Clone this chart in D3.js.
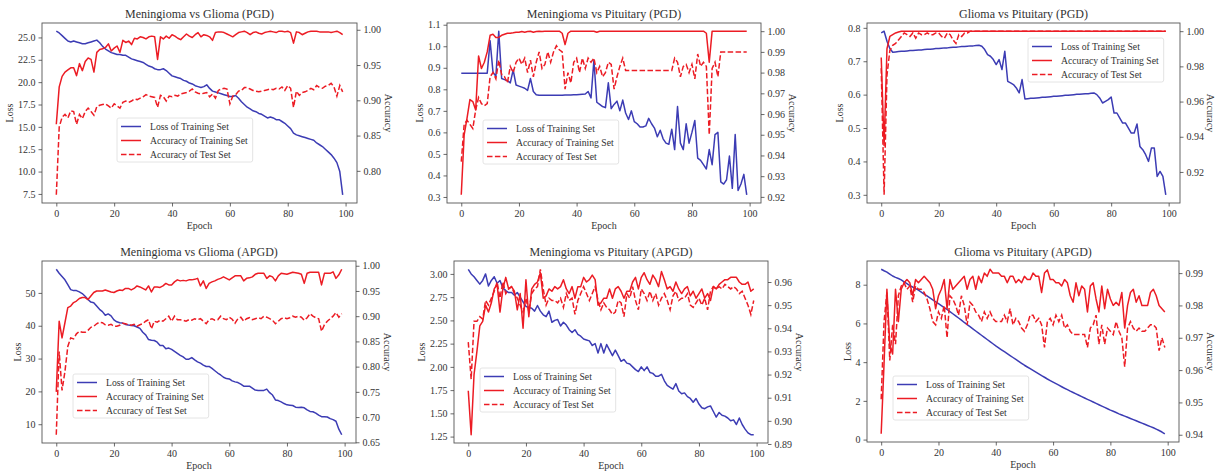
<!DOCTYPE html>
<html><head><meta charset="utf-8">
<script src="https://cdn.jsdelivr.net/npm/d3@7"></script>
<style>
html,body{margin:0;padding:0;background:#fff;}
svg text{font-family:"Liberation Serif","Times New Roman",serif;fill:#333;}
</style></head>
<body><svg id="c" width="1215" height="473"></svg>
<script>
const epochs = d3.range(100);
const titles = ["Meningioma vs Glioma (PGD)","Meningioma vs Pituitary (PGD)","Glioma vs Pituitary (PGD)",
  "Meningioma vs Glioma (APGD)","Meningioma vs Pituitary (APGD)","Glioma vs Pituitary (APGD)"];
const legendLabels = ["Loss of Training Set","Accuracy of Training Set","Accuracy of Test Set"];

// Panel 1: Meningioma vs Glioma (PGD)
const lossMG_PGD = [25.7,25.5,25.2,24.9,24.6,24.5,24.6,24.5,24.4,24.3,
24.3,24.4,24.5,24.6,24.7,24.4,24.0,23.7,23.5,23.3,
23.2,23.1,23.1,23.0,23.0,22.8,22.6,22.5,22.4,22.3,
22.2,22.0,21.8,21.7,21.5,21.4,21.4,21.5,21.3,21.0,
20.7,20.6,20.5,20.4,20.2,20.1,19.9,19.8,19.6,19.5,
19.4,19.5,19.7,19.3,19.0,18.9,18.8,18.7,18.6,18.5,
18.4,18.4,18.5,18.2,17.8,17.5,17.2,17.0,16.8,16.7,
16.5,16.4,16.2,16.0,16.1,16.0,15.8,15.8,15.6,15.4,
15.1,14.8,14.3,14.1,14.0,13.9,13.8,13.7,13.6,13.5,
13.2,13.0,12.8,12.5,12.2,11.9,11.5,11.0,10.0,7.4];
const trainMG_PGD = [0.866,0.919,0.934,0.940,0.943,0.946,0.946,0.935,0.952,0.942,
0.955,0.960,0.958,0.940,0.968,0.972,0.973,0.975,0.980,0.970,
0.974,0.977,0.968,0.985,0.982,0.984,0.979,0.988,0.987,0.990,
0.989,0.987,0.990,0.991,0.990,0.958,0.990,0.987,0.991,0.988,
0.993,0.991,0.988,0.986,0.990,0.994,0.991,0.989,0.993,0.996,
0.990,0.993,0.992,0.990,0.985,0.996,0.997,0.997,0.996,0.994,
0.992,0.990,0.993,0.996,0.997,0.998,0.996,0.993,0.996,0.997,
0.995,0.994,0.996,0.997,0.998,0.997,0.996,0.998,0.998,0.997,
0.998,0.996,0.981,0.997,0.996,0.993,0.995,0.997,0.998,0.998,
0.998,0.997,0.997,0.997,0.997,0.996,0.997,0.998,0.996,0.993];
const testMG_PGD = [0.766,0.862,0.876,0.880,0.875,0.885,0.884,0.866,0.880,0.874,
0.884,0.889,0.884,0.879,0.891,0.893,0.894,0.895,0.892,0.889,
0.895,0.892,0.889,0.897,0.899,0.897,0.899,0.902,0.901,0.903,
0.905,0.908,0.906,0.905,0.904,0.890,0.907,0.905,0.899,0.906,
0.905,0.907,0.906,0.909,0.910,0.911,0.913,0.916,0.912,0.910,
0.909,0.910,0.911,0.905,0.909,0.903,0.914,0.916,0.917,0.916,
0.895,0.906,0.908,0.913,0.914,0.918,0.918,0.916,0.914,0.913,
0.912,0.913,0.914,0.915,0.916,0.915,0.917,0.916,0.919,0.914,
0.921,0.917,0.890,0.913,0.907,0.911,0.912,0.914,0.917,0.915,
0.921,0.918,0.917,0.920,0.921,0.924,0.919,0.906,0.921,0.912];

// Panel 2: Meningioma vs Pituitary (PGD)
const lossMP_PGD = [0.875,0.875,0.875,0.875,0.875,0.875,0.875,0.875,0.875,0.875,
1.025,0.88,0.86,1.07,0.85,0.845,0.84,0.83,0.89,0.82,
0.815,0.81,0.805,0.795,0.85,0.79,0.775,0.772,0.772,0.772,
0.772,0.772,0.772,0.773,0.773,0.773,0.774,0.774,0.774,0.775,
0.775,0.776,0.777,0.778,0.79,0.76,0.935,0.74,0.73,0.72,
0.715,0.83,0.71,0.73,0.745,0.70,0.75,0.69,0.66,0.70,
0.65,0.64,0.625,0.625,0.63,0.665,0.64,0.62,0.58,0.61,
0.57,0.55,0.545,0.615,0.52,0.72,0.55,0.52,0.64,0.55,
0.60,0.655,0.48,0.47,0.45,0.43,0.52,0.45,0.59,0.60,
0.37,0.36,0.38,0.49,0.34,0.59,0.33,0.36,0.405,0.31];
const trainMP_PGD = [0.921,0.950,0.958,0.967,0.966,0.962,0.988,0.982,0.985,0.990,
0.998,0.9985,0.997,0.997,0.998,0.9985,0.999,0.999,0.9992,0.9995,
0.9995,0.9998,0.9995,0.9998,1.0,0.9995,0.9998,1.0,0.9998,1.0,
1.0,1.0,1.0,1.0,1.0,0.999,0.9935,0.999,1.0,1.0,
1.0,1.0,1.0,1.0,1.0,1.0,1.0,0.9995,1.0,1.0,
1.0,1.0,1.0,1.0,1.0,1.0,1.0,1.0,1.0,1.0,
1.0,1.0,1.0,1.0,1.0,1.0,1.0,1.0,1.0,1.0,
1.0,1.0,1.0,1.0,1.0,1.0,1.0,1.0,1.0,1.0,
1.0,1.0,1.0,1.0,1.0,0.999,0.985,1.0,1.0,1.0,
1.0,1.0,1.0,1.0,1.0,1.0,1.0,1.0,1.0,1.0];
const testMP_PGD = [0.937,0.955,0.957,0.955,0.953,0.962,0.968,0.965,0.964,0.965,
0.978,0.980,0.977,0.986,0.979,0.978,0.975,0.983,0.980,0.985,
0.987,0.984,0.987,0.980,0.986,0.978,0.985,0.990,0.982,0.984,
0.990,0.985,0.990,0.993,0.991,0.990,0.972,0.980,0.975,0.985,
0.987,0.980,0.987,0.982,0.987,0.985,0.987,0.980,0.983,0.978,
0.980,0.985,0.984,0.972,0.978,0.983,0.987,0.981,0.981,0.981,
0.981,0.981,0.981,0.981,0.981,0.981,0.981,0.981,0.981,0.981,
0.981,0.981,0.981,0.981,0.987,0.985,0.978,0.983,0.984,0.980,
0.984,0.977,0.989,0.983,0.985,0.983,0.950,0.982,0.985,0.978,
0.990,0.990,0.990,0.990,0.990,0.990,0.990,0.990,0.990,0.990];

// Panel 3: Glioma vs Pituitary (PGD)
const lossGP_PGD = [0.785,0.790,0.760,0.738,0.727,0.728,0.729,0.730,0.730,0.731,
0.732,0.732,0.733,0.734,0.734,0.735,0.736,0.736,0.737,0.738,
0.738,0.739,0.740,0.740,0.741,0.742,0.742,0.743,0.744,0.744,
0.745,0.746,0.746,0.747,0.748,0.745,0.735,0.720,0.715,0.705,
0.690,0.705,0.675,0.730,0.640,0.635,0.630,0.620,0.605,0.645,
0.587,0.588,0.589,0.589,0.590,0.591,0.592,0.592,0.593,0.594,
0.595,0.595,0.596,0.597,0.598,0.598,0.599,0.600,0.601,0.601,
0.602,0.603,0.603,0.604,0.605,0.600,0.590,0.575,0.580,0.585,
0.593,0.545,0.545,0.530,0.515,0.515,0.500,0.485,0.485,0.512,
0.445,0.435,0.420,0.400,0.440,0.440,0.355,0.370,0.355,0.300];
const trainGP_PGD = [0.985,0.935,0.990,0.997,0.998,0.999,0.9995,1.0,1.0,1.0,
1.0,1.0,1.0,1.0,1.0,1.0,1.0,1.0,1.0,1.0,
1.0,1.0,1.0,1.0,1.0,1.0,1.0,1.0,1.0,1.0,
1.0,1.0,1.0,1.0,1.0,1.0,1.0,1.0,1.0,1.0,
1.0,1.0,1.0,1.0,1.0,1.0,1.0,1.0,1.0,1.0,
1.0,1.0,1.0,1.0,1.0,1.0,1.0,1.0,1.0,1.0,
1.0,1.0,1.0,1.0,1.0,1.0,1.0,1.0,1.0,1.0,
1.0,1.0,1.0,1.0,1.0,1.0,1.0,1.0,1.0,1.0,
1.0,1.0,1.0,1.0,1.0,1.0,1.0,1.0,1.0,1.0,
1.0,1.0,1.0,1.0,1.0,1.0,1.0,1.0,1.0,1.0];
const testGP_PGD = [0.979,0.907,0.975,0.989,0.992,0.993,0.995,0.997,0.999,0.998,
0.997,0.999,0.996,0.999,0.998,0.998,0.999,0.998,0.998,0.999,
0.999,0.997,0.996,0.999,0.998,0.995,0.993,0.998,0.997,0.999,
0.999,1.0,1.0,1.0,1.0,1.0,1.0,1.0,1.0,1.0,
1.0,1.0,1.0,1.0,1.0,1.0,1.0,1.0,1.0,1.0,
1.0,1.0,1.0,1.0,1.0,1.0,1.0,1.0,1.0,1.0,
1.0,1.0,1.0,1.0,1.0,1.0,1.0,1.0,1.0,1.0,
1.0,1.0,1.0,1.0,1.0,1.0,1.0,1.0,1.0,1.0,
1.0,1.0,1.0,1.0,1.0,1.0,1.0,1.0,1.0,1.0,
1.0,1.0,1.0,1.0,1.0,1.0,1.0,1.0,1.0,1.0];

// Panel 4: Meningioma vs Glioma (APGD)
const lossMG_APGD = [57.2,56.0,55.0,54.0,52.5,51.0,50.7,50.7,50.3,49.8,
49.0,48.0,47.2,47.0,46.0,45.0,44.3,43.2,43.6,43.0,
41.8,41.2,40.9,40.8,40.4,40.2,40.1,40.0,39.6,39.2,
38.0,37.2,35.8,35.6,35.5,35.0,34.0,34.0,33.0,33.2,
32.8,32.2,31.6,31.0,30.5,29.8,29.8,30.3,29.6,29.0,
28.6,28.0,27.6,27.6,27.0,26.3,25.6,25.0,24.3,23.9,
23.8,23.2,22.9,22.7,22.2,21.6,21.6,21.6,21.0,20.4,
20.3,20.3,20.3,20.7,19.6,18.9,17.4,17.2,16.8,16.3,
15.9,15.8,15.7,15.2,15.1,15.2,15.0,14.4,13.9,13.8,
13.4,12.8,12.3,12.3,12.2,11.7,11.4,10.9,8.5,6.8];
const trainMG_APGD = [0.750,0.890,0.857,0.887,0.917,0.920,0.927,0.930,0.935,0.937,
0.937,0.933,0.940,0.947,0.950,0.950,0.950,0.952,0.950,0.948,
0.947,0.950,0.952,0.951,0.955,0.955,0.952,0.955,0.960,0.958,
0.955,0.952,0.960,0.948,0.958,0.958,0.957,0.960,0.965,0.962,
0.962,0.968,0.972,0.970,0.971,0.970,0.972,0.972,0.973,0.975,
0.960,0.970,0.955,0.965,0.968,0.970,0.973,0.975,0.978,0.975,
0.972,0.976,0.980,0.980,0.980,0.970,0.975,0.976,0.978,0.983,
0.985,0.985,0.985,0.975,0.980,0.978,0.970,0.980,0.985,0.984,
0.983,0.985,0.987,0.986,0.985,0.983,0.965,0.985,0.987,0.987,
0.987,0.987,0.962,0.985,0.985,0.985,0.988,0.975,0.982,0.993];
const testMG_APGD = [0.665,0.830,0.753,0.790,0.840,0.857,0.855,0.865,0.870,0.868,
0.868,0.872,0.878,0.880,0.885,0.888,0.887,0.883,0.882,0.884,
0.880,0.880,0.882,0.886,0.885,0.883,0.882,0.884,0.880,0.883,
0.885,0.890,0.893,0.875,0.890,0.888,0.892,0.890,0.895,0.900,
0.890,0.900,0.893,0.893,0.892,0.890,0.893,0.892,0.895,0.893,
0.895,0.890,0.885,0.893,0.895,0.892,0.893,0.900,0.895,0.893,
0.898,0.894,0.886,0.895,0.898,0.890,0.895,0.897,0.893,0.895,
0.897,0.895,0.900,0.898,0.895,0.892,0.885,0.890,0.895,0.897,
0.895,0.897,0.900,0.898,0.900,0.898,0.892,0.897,0.905,0.900,
0.897,0.895,0.870,0.883,0.890,0.895,0.900,0.907,0.898,0.905];

// Panel 5: Meningioma vs Pituitary (APGD)
const lossMP_APGD = [3.05,3.00,2.97,2.93,2.89,2.93,3.00,2.87,2.93,2.97,
2.90,2.93,2.85,2.82,2.80,2.80,2.77,2.80,2.75,2.70,
2.65,2.64,2.63,2.60,2.66,2.60,2.56,2.54,2.60,2.48,
2.50,2.51,2.44,2.48,2.45,2.40,2.37,2.40,2.35,2.33,
2.30,2.29,2.28,2.23,2.25,2.15,2.25,2.15,2.24,2.18,
2.12,2.18,2.12,2.06,2.08,2.04,2.03,2.00,1.97,1.95,
2.00,1.96,2.00,1.94,1.93,1.90,1.90,1.92,1.85,1.80,
1.78,1.76,1.82,1.74,1.71,1.72,1.68,1.66,1.62,1.66,
1.60,1.56,1.55,1.57,1.58,1.52,1.46,1.51,1.48,1.47,
1.45,1.42,1.43,1.38,1.45,1.38,1.33,1.29,1.27,1.27];
const trainMP_APGD = [0.913,0.894,0.920,0.930,0.941,0.943,0.950,0.947,0.951,0.957,
0.959,0.947,0.957,0.962,0.957,0.958,0.956,0.948,0.955,0.940,
0.961,0.945,0.957,0.959,0.960,0.964,0.953,0.954,0.957,0.956,
0.958,0.957,0.958,0.961,0.957,0.955,0.958,0.953,0.958,0.958,
0.962,0.960,0.961,0.963,0.961,0.950,0.951,0.953,0.953,0.957,
0.953,0.957,0.958,0.956,0.953,0.956,0.956,0.960,0.962,0.957,
0.962,0.964,0.961,0.959,0.963,0.961,0.958,0.9645,0.961,0.957,
0.958,0.956,0.960,0.957,0.955,0.957,0.958,0.954,0.956,0.953,
0.955,0.957,0.953,0.955,0.952,0.958,0.957,0.959,0.960,0.961,
0.961,0.962,0.962,0.962,0.960,0.959,0.959,0.960,0.956,0.957];
const testMP_APGD = [0.934,0.918,0.943,0.943,0.945,0.944,0.952,0.950,0.953,0.956,
0.960,0.953,0.960,0.955,0.957,0.958,0.955,0.953,0.950,0.947,
0.953,0.947,0.955,0.957,0.958,0.9655,0.957,0.950,0.953,0.952,
0.952,0.951,0.953,0.949,0.955,0.952,0.953,0.946,0.952,0.955,
0.958,0.955,0.952,0.955,0.958,0.952,0.948,0.951,0.949,0.948,
0.946,0.947,0.952,0.951,0.945,0.955,0.953,0.958,0.952,0.948,
0.957,0.955,0.952,0.956,0.952,0.955,0.950,0.953,0.955,0.952,
0.948,0.954,0.956,0.952,0.953,0.953,0.955,0.950,0.949,0.951,
0.953,0.950,0.953,0.948,0.956,0.958,0.957,0.958,0.957,0.959,
0.958,0.957,0.958,0.957,0.955,0.956,0.953,0.950,0.946,0.952];

// Panel 6: Glioma vs Pituitary (APGD)
const lossGP_APGD = [8.80,8.72,8.65,8.55,8.45,8.38,8.32,8.25,8.15,8.05,
7.95,7.88,7.80,7.72,7.62,7.52,7.42,7.32,7.22,7.12,
7.02,6.92,6.82,6.72,6.61,6.50,6.39,6.28,6.17,6.05,
5.94,5.83,5.72,5.61,5.50,5.39,5.28,5.17,5.06,4.95,
4.84,4.74,4.64,4.54,4.44,4.34,4.24,4.14,4.04,3.94,
3.84,3.75,3.66,3.57,3.48,3.39,3.30,3.22,3.13,3.05,
2.97,2.89,2.81,2.73,2.65,2.58,2.50,2.43,2.36,2.29,
2.22,2.15,2.08,2.01,1.94,1.87,1.80,1.73,1.66,1.59,
1.52,1.46,1.40,1.33,1.27,1.21,1.15,1.09,1.03,0.97,
0.91,0.85,0.79,0.73,0.67,0.61,0.54,0.47,0.39,0.30];
const trainGP_APGD = [0.9403,0.962,0.985,0.968,0.965,0.985,0.975,0.985,0.987,0.988,
0.987,0.983,0.988,0.987,0.988,0.989,0.988,0.987,0.985,0.979,
0.983,0.985,0.988,0.979,0.988,0.985,0.986,0.987,0.988,0.989,
0.985,0.988,0.989,0.985,0.989,0.987,0.990,0.989,0.9912,0.990,
0.990,0.990,0.989,0.989,0.987,0.989,0.989,0.987,0.988,0.987,
0.989,0.988,0.988,0.990,0.989,0.989,0.984,0.990,0.991,0.988,
0.988,0.987,0.987,0.986,0.988,0.987,0.983,0.981,0.987,0.983,
0.986,0.985,0.978,0.986,0.987,0.982,0.978,0.986,0.979,0.985,
0.982,0.980,0.981,0.980,0.984,0.973,0.980,0.984,0.985,0.981,
0.983,0.980,0.980,0.980,0.984,0.985,0.983,0.980,0.979,0.978];
const testGP_APGD = [0.951,0.975,0.984,0.963,0.974,0.968,0.983,0.986,0.987,0.985,
0.986,0.981,0.986,0.985,0.985,0.984,0.982,0.979,0.975,0.974,
0.978,0.976,0.980,0.970,0.983,0.982,0.980,0.977,0.983,0.980,
0.974,0.981,0.980,0.978,0.977,0.975,0.978,0.976,0.978,0.976,
0.975,0.975,0.975,0.977,0.975,0.979,0.974,0.976,0.975,0.973,
0.972,0.974,0.977,0.977,0.975,0.976,0.974,0.967,0.975,0.976,
0.974,0.977,0.975,0.977,0.973,0.974,0.972,0.971,0.971,0.971,
0.971,0.971,0.967,0.973,0.974,0.977,0.968,0.974,0.968,0.973,
0.972,0.971,0.975,0.972,0.970,0.961,0.973,0.975,0.973,0.972,
0.973,0.972,0.972,0.973,0.974,0.974,0.973,0.966,0.970,0.967];

// Tick labels per panel
const xTicks = [0,20,40,60,80,100];
const lossTicks = [[7.5,10,12.5,15,17.5,20,22.5,25],[0.3,0.4,0.5,0.6,0.7,0.8,0.9,1.0,1.1],[0.3,0.4,0.5,0.6,0.7,0.8],
  [10,20,30,40,50],[1.25,1.5,1.75,2.0,2.25,2.5,2.75,3.0],[0,2,4,6,8]];
const accTicks = [[0.80,0.85,0.90,0.95,1.00],[0.92,0.93,0.94,0.95,0.96,0.97,0.98,0.99,1.00],[0.92,0.94,0.96,0.98,1.00],
  [0.65,0.70,0.75,0.80,0.85,0.90,0.95,1.00],[0.89,0.90,0.91,0.92,0.93,0.94,0.95,0.96],[0.94,0.95,0.96,0.97,0.98,0.99]];
const lossFormats = [".1f",".1f",".1f","d",".2f","d"];
const accFormats = [".2f",".2f",".2f",".2f",".2f",".2f"];

const lossSeries = [lossMG_PGD,lossMP_PGD,lossGP_PGD,lossMG_APGD,lossMP_APGD,lossGP_APGD];
const trainSeries = [trainMG_PGD,trainMP_PGD,trainGP_PGD,trainMG_APGD,trainMP_APGD,trainGP_APGD];
const testSeries = [testMG_PGD,testMP_PGD,testGP_PGD,testMG_APGD,testMP_APGD,testGP_APGD];

// layout (styles / positions)
const rects = [
  {x:42,y:23,w:315,h:180},{x:447,y:23,w:314,h:180},{x:867,y:23,w:313,h:180},
  {x:42,y:261,w:314,h:182},{x:454,y:261,w:314,h:182},{x:867,y:261,w:312,h:181}];
const legendPos = [{dx:75,dy:95},{dx:36,dy:97},{dx:161,dy:15},{dx:31,dy:113},{dx:26,dy:107},{dx:26,dy:115}];
const BLUE = "#3c3cb4", RED = "#ec1c24";

const svg = d3.select("#c");

function padded(ext){const r=ext[1]-ext[0];return [ext[0]-0.05*r, ext[1]+0.05*r];}

rects.forEach((r,i)=>{
  const g = svg.append("g");
  const x = d3.scaleLinear().domain(padded([0,99])).range([r.x, r.x+r.w]);
  const yL = d3.scaleLinear().domain(padded(d3.extent(lossSeries[i]))).range([r.y+r.h, r.y]);
  const accAll = trainSeries[i].concat(testSeries[i]);
  const yR = d3.scaleLinear().domain(padded(d3.extent(accAll))).range([r.y+r.h, r.y]);

  const lineL = d3.line().x((d,j)=>x(epochs[j])).y(d=>yL(d));
  const lineR = d3.line().x((d,j)=>x(epochs[j])).y(d=>yR(d));
  g.append("path").attr("d",lineL(lossSeries[i])).attr("fill","none").attr("stroke",BLUE).attr("stroke-width",1.5).attr("stroke-linejoin","round");
  g.append("path").attr("d",lineR(trainSeries[i])).attr("fill","none").attr("stroke",RED).attr("stroke-width",1.5).attr("stroke-linejoin","round");
  g.append("path").attr("d",lineR(testSeries[i])).attr("fill","none").attr("stroke",RED).attr("stroke-width",1.5).attr("stroke-dasharray","5.5,2.4");

  g.append("rect").attr("x",r.x).attr("y",r.y).attr("width",r.w).attr("height",r.h)
    .attr("fill","none").attr("stroke","#555").attr("stroke-width",0.9);

  const ax = g.append("g").attr("transform",`translate(0,${r.y+r.h})`)
    .call(d3.axisBottom(x).tickValues(xTicks).tickFormat(d3.format("d")).tickSize(3.5).tickPadding(3));
  const al = g.append("g").attr("transform",`translate(${r.x},0)`)
    .call(d3.axisLeft(yL).tickValues(lossTicks[i]).tickFormat(d3.format(lossFormats[i])).tickSize(3.5).tickPadding(3));
  const ar = g.append("g").attr("transform",`translate(${r.x+r.w},0)`)
    .call(d3.axisRight(yR).tickValues(accTicks[i]).tickFormat(d3.format(accFormats[i])).tickSize(3.5).tickPadding(3));
  [ax,al,ar].forEach(a=>{
    a.select(".domain").remove();
    a.selectAll(".tick line").attr("stroke","#444").attr("stroke-width",0.8);
    a.selectAll(".tick text").attr("font-family","Liberation Serif").attr("font-size",10).attr("fill","#333");
  });

  g.append("text").attr("x",r.x+r.w/2).attr("y",r.y-5).attr("text-anchor","middle")
    .attr("font-size",12).text(titles[i]);
  g.append("text").attr("x",r.x+r.w/2).attr("y",r.y+r.h+26).attr("text-anchor","middle")
    .attr("font-size",10).text("Epoch");
  let minX = d3.min(al.selectAll(".tick text").nodes(), n=>n.getBBox().x + r.x);
  g.append("text").attr("transform",`translate(${minX-5},${r.y+r.h/2}) rotate(-90)`)
    .attr("text-anchor","middle").attr("font-size",10).text("Loss");
  let maxX = d3.max(ar.selectAll(".tick text").nodes(), n=>{const b=n.getBBox();return b.x+b.width + r.x + r.w;});
  const rx = Math.min(maxX+4, 1207);
  g.append("text").attr("transform",`translate(${rx},${r.y+r.h/2}) rotate(90)`)
    .attr("text-anchor","middle").attr("font-size",10).text("Accuracy");

  const lp = legendPos[i];
  const lg = g.append("g").attr("transform",`translate(${r.x+lp.dx},${r.y+lp.dy})`);
  const box = lg.append("rect").attr("rx",2).attr("fill","#fff").attr("fill-opacity",0.8)
    .attr("stroke","#ddd").attr("stroke-width",0.8);
  const styles = [{c:BLUE,d:null},{c:RED,d:null},{c:RED,d:"5.5,2.4"}];
  let maxW = 0;
  legendLabels.forEach((lab,k)=>{
    const yy = 8.5 + k*14;
    const ln = lg.append("line").attr("x1",4).attr("x2",24).attr("y1",yy).attr("y2",yy)
      .attr("stroke",styles[k].c).attr("stroke-width",1.5);
    if(styles[k].d) ln.attr("stroke-dasharray",styles[k].d);
    const t = lg.append("text").attr("x",33).attr("y",yy).attr("dy","0.35em").attr("font-size",9.7).text(lab);
    maxW = Math.max(maxW, t.node().getComputedTextLength());
  });
  box.attr("x",0).attr("y",0).attr("width",33+maxW+5).attr("height",44);
});
</script>
</body></html>
